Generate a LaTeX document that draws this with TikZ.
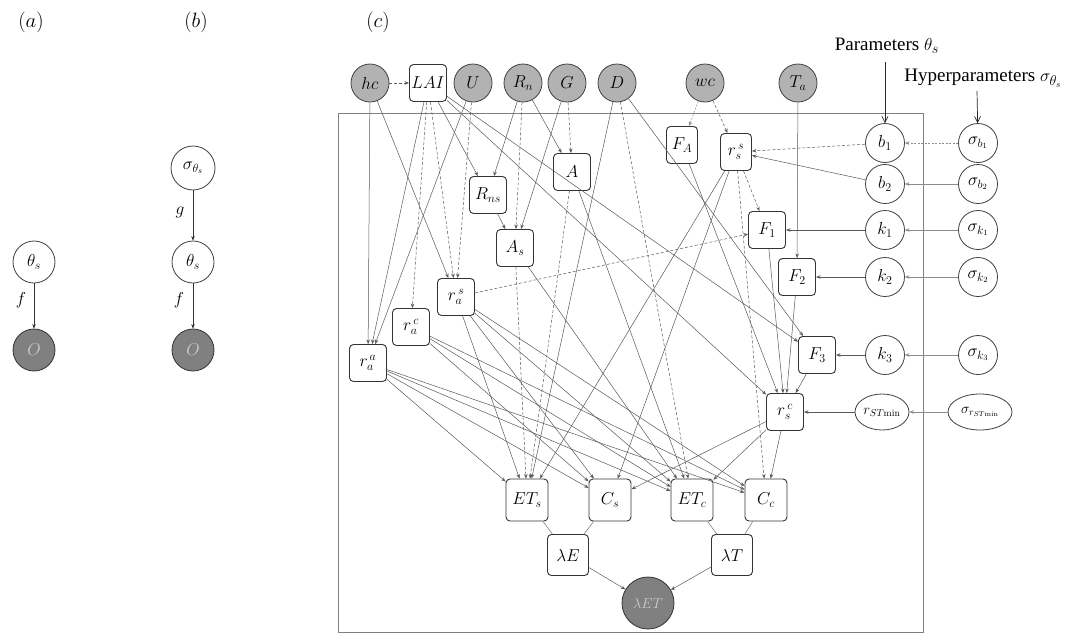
\documentclass[tikz,border=0pt]{standalone}
\usepackage{fontspec}
\newfontfamily\tnr{Liberation Serif}
\usetikzlibrary{arrows.meta,shapes.geometric}
\begin{document}
\begin{tikzpicture}[x=1pt,y=-1pt,
  every node/.style={font=\fontsize{16.5}{18}\selectfont},
  obs/.style={circle,draw=black!75,fill=black!30,minimum size=38pt,inner sep=0pt,line width=0.8pt},
  dobs/.style={circle,draw=black!80,fill=black!50,text=white!80!black,inner sep=0pt,line width=0.8pt},
  prm/.style={circle,draw=black!75,fill=white,minimum size=39pt,inner sep=0pt,line width=0.8pt},
  bx/.style={rectangle,rounded corners=4pt,draw=black!80,fill=white,minimum width=37pt,minimum height=37pt,inner sep=1pt,line width=0.9pt},
  nbx/.style={bx,minimum width=31pt},
  lbx/.style={bx,minimum width=42pt,minimum height=42pt},
  ell/.style={ellipse,draw=black!75,fill=white,minimum height=36pt,inner sep=0pt,line width=0.8pt,font=\fontsize{14}{16}\selectfont},
  ed/.style={draw=black!65,line width=0.5pt,-{Stealth[length=4.5pt,width=3.5pt]}},
  ded/.style={ed,dash pattern=on 3pt off 2pt},
  led/.style={ed,draw=black!45},
  pl/.style={draw=black!55,line width=0.5pt},
  lab/.style={font=\fontsize{20}{22}\selectfont},
  ttl/.style={font=\tnr\fontsize{19}{22}\selectfont},
  tip/.style={draw=black!85,line width=0.7pt,-{Straight Barb[length=6pt,width=6pt]}}
]
\useasboundingbox (0,0) rectangle (1073,635);
\fill[white] (0,0) rectangle (1073,635);

% ---------- panel (a)
\node[lab] (la) at (31,22) {$(a)$};
\node[prm,minimum size=42pt] (ta) at (34,262) {$\theta_s$};
\node[dobs,minimum size=42pt] (oa) at (34,350) {$O$};
\draw[ed,draw=black!80] (ta) -- (oa);
\node (fa) at (21,300) {$f$};

% ---------- panel (b)
\node[lab] (lb) at (196,22) {$(b)$};
\node[prm,minimum size=44pt] (sb) at (193,168) {$\sigma_{\theta_s}$};
\node[prm,minimum size=42pt] (tb) at (193,262) {$\theta_s$};
\node[dobs,minimum size=42pt] (ob) at (193,350) {$O$};
\draw[ed,draw=black!80] (sb) -- (tb);
\draw[ed,draw=black!80] (tb) -- (ob);
\node (gb) at (180,212) {$g$};
\node (fb) at (179,300) {$f$};

% ---------- panel (c)
\node[lab] (lc) at (378,22) {$(c)$};
\draw[draw=black!50,line width=0.8pt] (338,113) rectangle (923,632);

% top row
\node[obs] (hc) at (370,83) {$hc$};
\node[bx] (LAI) at (428,83) {$LAI$};
\node[obs] (U) at (473,83) {$U$};
\node[obs] (Rn) at (523,83) {$R_n$};
\node[obs] (G) at (567,83) {$G$};
\node[obs] (D) at (617,83) {$D$};
\node[obs] (wc) at (705,83) {$wc$};
\node[obs] (Ta) at (798,83) {$T_a$};

% parameter titles
\node[ttl] (ptxt) at (887,46) {Parameters $\theta_s$};
\node[ttl] (htxt) at (983,78) {Hyperparameters $\sigma_{\theta_s}$};
\coordinate (pa) at (885,62);
\coordinate (ha) at (977,91);

% inner nodes
\node[nbx] (FA) at (682,145) {$F_A$};
\node[nbx] (rss) at (736,152) {$r_s^{\,s}$};
\node[prm] (b1) at (885,143) {$b_1$};
\node[prm] (sb1) at (978,143) {$\sigma_{b_1}$};
\node[prm] (b2) at (885,184) {$b_2$};
\node[prm] (sb2) at (978,184) {$\sigma_{b_2}$};
\node[bx] (A) at (572,172) {$A$};
\node[bx] (Rns) at (488,195) {$R_{ns}$};
\node[bx] (As) at (515,248) {$A_s$};
\node[bx] (F1) at (767,230) {$F_1$};
\node[prm] (k1) at (885,230) {$k_1$};
\node[prm] (sk1) at (978,230) {$\sigma_{k_1}$};
\node[bx] (F2) at (797,277) {$F_2$};
\node[prm] (k2) at (885,277) {$k_2$};
\node[prm] (sk2) at (978,277) {$\sigma_{k_2}$};
\node[bx] (ras) at (456,297) {$r_a^{\,s}$};
\node[bx] (rac) at (411,327) {$r_a^{\,c}$};
\node[bx] (raa) at (368,363) {$r_a^{\,a}$};
\node[bx] (F3) at (817,355) {$F_3$};
\node[prm] (k3) at (885,355) {$k_3$};
\node[prm] (sk3) at (978,355) {$\sigma_{k_3}$};
\node[bx] (rsc) at (785,412) {$r_s^{\,c}$};
\node[ell,minimum width=54pt] (rst) at (882,412) {$r_{ST\mathrm{min}}$};
\node[ell,minimum width=64pt] (srst) at (980,412) {$\sigma_{r_{ST\mathrm{min}}}$};
\node[lbx] (ETs) at (527,500) {$ET_s$};
\node[lbx] (Cs) at (610,500) {$C_s$};
\node[lbx] (ETc) at (692,500) {$ET_c$};
\node[lbx] (Cc) at (766,500) {$C_c$};
\node[bx,minimum width=41pt,minimum height=41pt] (lE) at (568,555) {$\lambda E$};
\node[bx,minimum width=41pt,minimum height=41pt] (lT) at (732,555) {$\lambda T$};
\node[dobs,minimum size=52pt,font=\fontsize{14}{16}\selectfont] (lET) at (648,603) {$\lambda ET$};

% title arrows
\draw[tip] (pa) -- (b1);
\draw[tip] (ha) -- (sb1);

% edges from top row
\draw[ded] (hc) -- (LAI);
\draw[ed] (hc) -- (raa);
\draw[ed] (hc) -- (ras);
\draw[ed] (LAI) -- (raa);
\draw[ded] (LAI) -- (rac);
\draw[ded] (LAI) -- (ras);
\draw[ed] (LAI) -- (Rns);
\draw[ed] (LAI) -- (rsc);
\draw[ed] (LAI) -- (F3);
\draw[ed] (U) -- (raa);
\draw[ded] (U) -- (ras);
\draw[ed] (Rn) -- (Rns);
\draw[ed] (Rn) -- (A);
\draw[ded] (Rn) -- (As);
\draw[ded] (G) -- (A);
\draw[ed] (G) -- (As);
\draw[ed] (D) -- (ETs);
\draw[ded] (D) -- (ETc);
\draw[ed] (D) -- (F3);
\draw[led,dash pattern=on 2pt off 1.5pt] (wc) -- (FA);
\draw[ded] (wc) -- (rss);
\draw[ed] (Ta) -- (F2);

% middle edges
\draw[ed] (Rns) -- (As);
\draw[ded] (A) -- (ETs);
\draw[ed] (A) -- (ETc);
\draw[ded] (As) -- (ETs);
\draw[ed] (As) -- (ETc);
\foreach \t in {ETs,Cs,ETc,Cc} {\draw[ed] (raa) -- (\t);}
\foreach \t in {Cs,ETc,Cc} {\draw[ed] (rac) -- (\t);}
\foreach \t in {ETs,Cs,ETc,Cc} {\draw[ed] (ras) -- (\t);}
\draw[ded] (ras) -- (F1);
\draw[ded] (rss) -- (F1);
\draw[ed] (rss) -- (ETs);
\draw[ed] (rss) -- (Cs);
\draw[ded] (rss) -- (Cc);
\draw[ed] (FA) -- (rsc);
\draw[ed] (F1) -- (rsc);
\draw[ed] (F2) -- (rsc);
\draw[ed] (F3) -- (rsc);
\draw[ed] (rst) -- (rsc);
\foreach \t in {Cs,ETc,Cc} {\draw[ed] (rsc) -- (\t);}

% parameters
\draw[ded] (b1) -- (rss);
\draw[ed] (b2) -- (rss);
\draw[ed] (k1) -- (F1);
\draw[ed] (k2) -- (F2);
\draw[ed] (k3) -- (F3);
\draw[led,dash pattern=on 2pt off 1.5pt] (sb1) -- (b1);
\draw[led] (sb2) -- (b2);
\draw[led] (sk1) -- (k1);
\draw[led] (sk2) -- (k2);
\draw[led] (sk3) -- (k3);
\draw[led] (srst) -- (rst);

% bottom
\draw[pl] (ETs) -- (lE);
\draw[pl] (Cs) -- (lE);
\draw[pl] (ETc) -- (lT);
\draw[pl] (Cc) -- (lT);
\draw[ed] (lE) -- (lET);
\draw[ed] (lT) -- (lET);
\end{tikzpicture}
\end{document}
